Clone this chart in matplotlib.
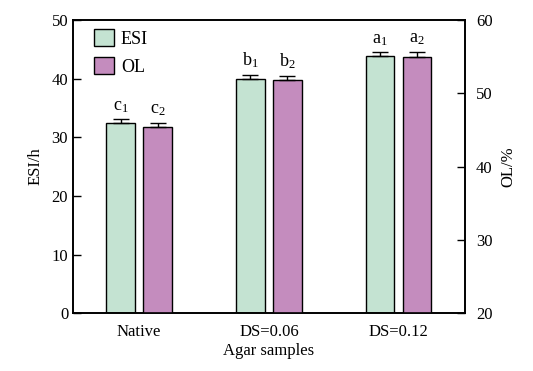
import numpy as np
import matplotlib
matplotlib.use("Agg")
import matplotlib.pyplot as plt
from matplotlib.patches import Patch

plt.rcParams['font.family'] = ['Liberation Serif', 'DejaVu Serif']
plt.rcParams['mathtext.fontset'] = 'custom'
plt.rcParams['mathtext.rm'] = 'Liberation Serif'
plt.rcParams['mathtext.it'] = 'Liberation Serif'

# data
samples = ['Native', 'DS=0.06', 'DS=0.12']
esi = [32.4, 40.0, 43.9]
esi_err = [0.65, 0.7, 0.6]
ol = [45.4, 51.8, 55.0]
ol_err = [0.6, 0.6, 0.7]
esi_letters = ['c$_1$', 'b$_1$', 'a$_1$']
ol_letters = ['c$_2$', 'b$_2$', 'a$_2$']

green = '#c4e3d2'
purple = '#c48cbe'

fig = plt.figure(figsize=(5.33, 3.71), dpi=100)
ax = fig.add_axes([0.137, 0.156, 0.735, 0.79])
ax2 = ax.twinx()

x = np.arange(len(samples))
w = 0.22
off = 0.142
ekw = dict(ecolor='black', elinewidth=1.0, capsize=6, capthick=1.0)

# error bars only upward, as in the reference
ax.bar(x - off, esi, w, color=green, edgecolor='black', linewidth=1.0,
       yerr=[np.zeros(3), esi_err], error_kw=ekw)
ax2.bar(x + off, ol, w, bottom=0, color=purple, edgecolor='black', linewidth=1.0,
        yerr=[np.zeros(3), ol_err], error_kw=ekw)

for i in range(len(samples)):
    ax.text(x[i] - off, esi[i] + esi_err[i] + 0.8, esi_letters[i], ha='center', va='bottom', fontsize=13)
    ax2.text(x[i] + off, ol[i] + ol_err[i] + 0.65, ol_letters[i], ha='center', va='bottom', fontsize=13)

ax.set_xlim(-0.51, 2.51)
ax.set_ylim(0, 50)
ax2.set_ylim(20, 60)
ax.set_yticks([0, 10, 20, 30, 40, 50])
ax2.set_yticks([20, 30, 40, 50, 60])
ax.set_xticks(x)
ax.set_xticklabels(samples)

ax.tick_params(axis='y', direction='in', length=6, labelsize=12, width=1)
ax2.tick_params(axis='y', direction='in', length=6, labelsize=12, width=1, pad=8)
ax.tick_params(axis='x', length=0, labelsize=12, pad=8)

ax.set_xlabel('Agar samples', fontsize=12, labelpad=2)
ax.set_ylabel('ESI/h', fontsize=12, labelpad=6)
ax2.set_ylabel('OL/%', fontsize=12, labelpad=6)

for a in (ax, ax2):
    for s in a.spines.values():
        s.set_linewidth(1.2)

handles = [Patch(facecolor=green, edgecolor='black', label='ESI'),
           Patch(facecolor=purple, edgecolor='black', label='OL')]
ax.legend(handles=handles, loc='upper left', frameon=False, fontsize=13,
          handlelength=1.1, handleheight=1.1, handletextpad=0.4, labelspacing=0.5,
          borderaxespad=0.1, bbox_to_anchor=(0.03, 1.0))

fig.savefig('out.png', dpi=100)
